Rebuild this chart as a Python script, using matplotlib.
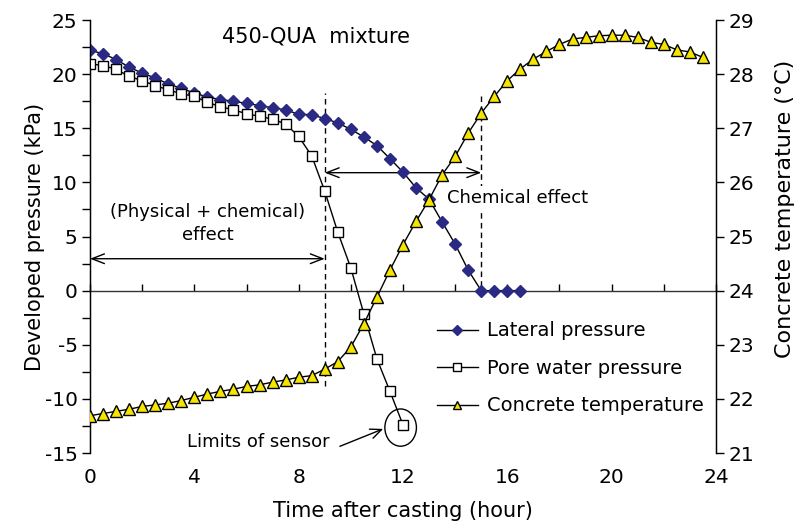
import matplotlib
matplotlib.use("Agg")
import matplotlib.pyplot as plt
from matplotlib.patches import Ellipse
import numpy as np

plt.rcParams['font.family'] = ['DejaVu Sans']
plt.rcParams['axes.unicode_minus'] = False

# ---- data ----
time_lat = [0, 0.5, 1, 1.5, 2, 2.5, 3, 3.5, 4, 4.5, 5, 5.5, 6, 6.5, 7, 7.5, 8, 8.5,
            9, 9.5, 10, 10.5, 11, 11.5, 12, 12.5, 13, 13.5, 14, 14.5, 15, 15.5, 16, 16.5]
lateral = [22.2, 21.9, 21.35, 20.65, 20.1, 19.65, 19.1, 18.7, 18.25, 17.9, 17.65, 17.5,
           17.3, 17.1, 16.9, 16.7, 16.3, 16.25, 15.9, 15.5, 14.9, 14.2, 13.4, 12.2,
           10.95, 9.5, 8.45, 6.35, 4.3, 1.9, 0.0, 0.0, 0.0, 0.0]

time_pore = [0, 0.5, 1, 1.5, 2, 2.5, 3, 3.5, 4, 4.5, 5, 5.5, 6, 6.5, 7, 7.5, 8, 8.5,
             9, 9.5, 10, 10.5, 11, 11.5, 12]
pore = [20.95, 20.8, 20.45, 19.8, 19.4, 18.95, 18.55, 18.2, 17.95, 17.4, 17.0, 16.7,
        16.35, 16.1, 15.85, 15.4, 14.25, 12.45, 9.2, 5.4, 2.1, -2.15, -6.3, -9.3, -12.4]

time_temp = [0, 0.5, 1, 1.5, 2, 2.5, 3, 3.5, 4, 4.5, 5, 5.5, 6, 6.5, 7, 7.5, 8, 8.5,
             9, 9.5, 10, 10.5, 11, 11.5, 12, 12.5, 13, 13.5, 14, 14.5, 15, 15.5, 16,
             16.5, 17, 17.5, 18, 18.5, 19, 19.5, 20, 20.5, 21, 21.5, 22, 22.5, 23, 23.5]
temperature = [21.69, 21.73, 21.77, 21.81, 21.86, 21.89, 21.92, 21.97, 22.03, 22.09,
               22.14, 22.18, 22.23, 22.26, 22.31, 22.35, 22.40, 22.43, 22.55, 22.69,
               22.96, 23.39, 23.88, 24.38, 24.85, 25.28, 25.68, 26.14, 26.48, 26.91,
               27.28, 27.59, 27.88, 28.10, 28.28, 28.42, 28.55, 28.65, 28.68, 28.71,
               28.72, 28.72, 28.68, 28.59, 28.55, 28.45, 28.41, 28.31]

x_ticks = [0, 4, 8, 12, 16, 20, 24]
left_ticks = [-15, -10, -5, 0, 5, 10, 15, 20, 25]
right_ticks = [21, 22, 23, 24, 25, 26, 27, 28, 29]

# ---- figure ----
fig = plt.figure(figsize=(7.98, 5.28), dpi=100)
ax = fig.add_axes([0.1128, 0.142, 0.7844, 0.820])
ax2 = ax.twinx()

FS_TICK = 14.5

ax.set_xlim(0, 24)
ax.set_ylim(-15, 25)
ax2.set_ylim(21, 29)

lw = 1.0
l1, = ax.plot(time_lat, lateral, color='black', lw=lw, marker='D', markersize=6.5,
              markerfacecolor='#2A2A85', markeredgecolor='#2A2A85', zorder=5,
              label='Lateral pressure')
l2, = ax.plot(time_pore, pore, color='black', lw=lw, marker='s', markersize=6.5,
              markerfacecolor='white', markeredgecolor='black', markeredgewidth=1.0,
              zorder=5, label='Pore water pressure')
l3, = ax2.plot(time_temp, temperature, color='black', lw=lw, marker='^', markersize=8,
               markerfacecolor='#F5E400', markeredgecolor='black', markeredgewidth=1.0,
               zorder=5, label='Concrete temperature')

# axes styling
for a in (ax, ax2):
    a.spines['top'].set_visible(False)
    a.spines['bottom'].set_visible(False)
ax.spines['left'].set_linewidth(1.0)
ax2.spines['right'].set_linewidth(1.0)

ax.set_xticks(x_ticks)
ax.tick_params(axis='x', length=0, labelsize=FS_TICK, pad=11)
ax.set_yticks(left_ticks)
ax.set_yticks(np.arange(-12.5, 25, 5), minor=True)
ax.tick_params(axis='y', which='both', direction='out', length=6, width=1.0,
               labelsize=FS_TICK, pad=3)
ax2.set_yticks(right_ticks)
ax2.tick_params(axis='y', direction='out', length=6, width=1.0,
                labelsize=FS_TICK, pad=3)

# zero line with ticks
sec = ax.secondary_xaxis(15 / 40)
sec.set_xticks(np.arange(0, 25, 2))
sec.tick_params(direction='in', length=5, width=1.0, labelbottom=False,
                labeltop=False)
sec.spines['bottom'].set_linewidth(1.0)
sec.spines['bottom'].set_color('#333333')

ax.set_xlabel('Time after casting (hour)', fontsize=15, labelpad=10)
ax.set_ylabel('Developed pressure (kPa)', fontsize=15, labelpad=0)
ax2.set_ylabel('Concrete temperature (\u00b0C)', fontsize=16)
ax2.yaxis.set_label_coords(1.095, 0.565)

# annotations
ax.text(8.65, 23.5, '450-QUA  mixture', fontsize=15, ha='center', va='center')

ax.plot([9, 9], [-8.8, 18.3], color='black', lw=1.0, ls=(0, (4, 3)), zorder=3)
ax.plot([15, 15], [-0.5, 18.3], color='black', lw=1.0, ls=(0, (4, 3)), zorder=3)

arrow_kw = dict(arrowstyle='<->,head_length=0.9,head_width=0.35', color='black',
                lw=1.0, shrinkA=0, shrinkB=0)
ax.annotate('', xy=(15, 10.9), xytext=(9, 10.9), arrowprops=arrow_kw, zorder=4)
ax.annotate('', xy=(9, 2.95), xytext=(0, 2.95), arrowprops=arrow_kw, zorder=4)

ax.text(16.4, 8.6, 'Chemical effect', fontsize=13, ha='center', va='center',
        bbox=dict(facecolor='white', edgecolor='none', pad=1.5), zorder=4)
ax.text(4.5, 6.2, '(Physical + chemical)\neffect', fontsize=13, ha='center',
        va='center', linespacing=1.3)

ax.text(6.45, -14.0, 'Limits of sensor', fontsize=13, ha='center',
        va='center')
ax.annotate('', xy=(11.24, -12.77), xytext=(9.58, -14.38),
            arrowprops=dict(arrowstyle='->,head_length=0.8,head_width=0.35',
                            color='black', lw=1.0, shrinkA=0, shrinkB=0))
ax.add_patch(Ellipse((11.91, -12.65), 1.21, 3.44, fill=False, edgecolor='black',
                     lw=1.0, zorder=4))

leg = ax.legend(handles=[l1, l2, l3], loc='upper left',
                bbox_to_anchor=(0.5415, 0.322), frameon=False, fontsize=14,
                handlelength=2.1, handletextpad=0.5, labelspacing=0.95,
                markerscale=0.8, borderaxespad=0)

fig.savefig('out.png', dpi=100)
